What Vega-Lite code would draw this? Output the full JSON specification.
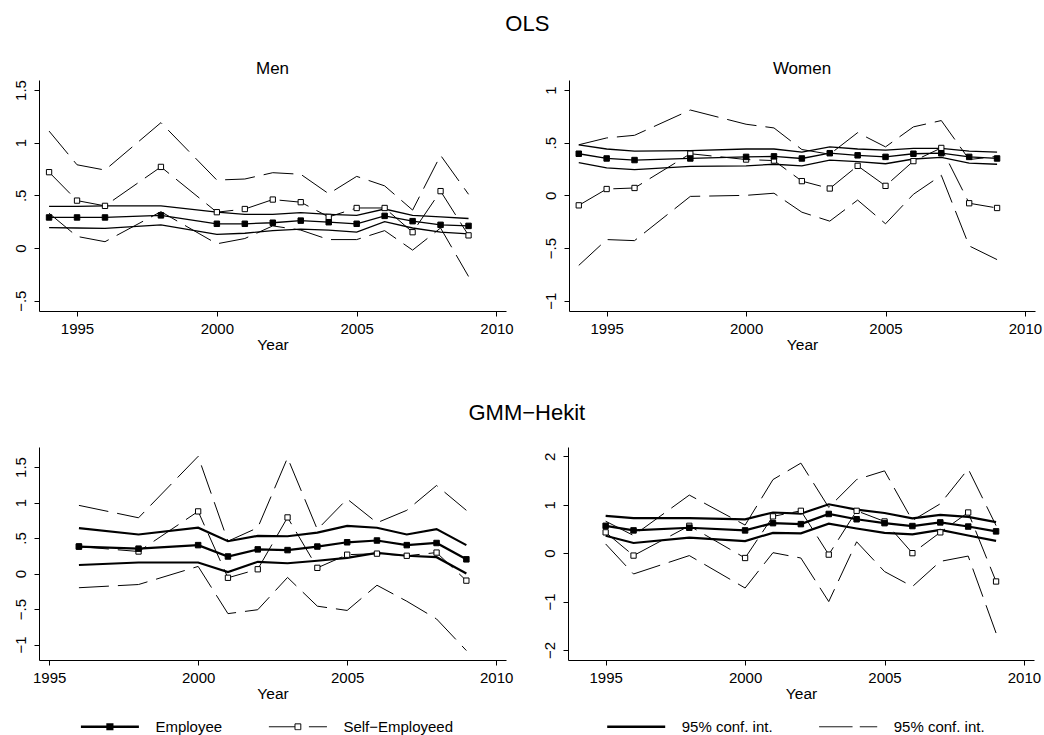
{
  "$schema": "https://vega.github.io/schema/vega-lite/v6.json",
  "background": "white",
  "padding": {"left": 12, "top": 12, "right": 5, "bottom": 0},
  "config": {
    "font": "Liberation Sans",
    "view": {"stroke": null},
    "axis": {"grid": false, "domainColor": "#000", "tickColor": "#000", "labelColor": "#000", "titleColor": "#000", "labelFontSize": 15, "titleFontSize": 15.5, "titleFontWeight": "normal", "tickSize": 5, "domainWidth": 1, "tickWidth": 1, "labelPadding": 5, "titlePadding": 1, "labelFont": "Liberation Sans", "titleFont": "Liberation Sans"},
    "title": {"fontWeight": "normal", "color": "#000", "font": "Liberation Sans"},
    "axisY": {"labelAngle": -90, "labelAlign": "center", "labelBaseline": "bottom", "labelPadding": 6, "title": null, "labelExpr": "(datum.value < 0 ? '−' : '') + replace(format(abs(datum.value), '~g'), '0.', '.')"},
    "axisX": {"labelFlush": false}
  },
  "datasets": {
    "d": [
      {"p":"om","x":1994,"emp":0.29,"emp_lo":0.193,"emp_hi":0.395,"se":0.72,"se_lo":0.33,"se_hi":1.11},
      {"p":"om","x":1995,"emp":0.29,"emp_lo":0.19,"emp_hi":0.395,"se":0.45,"se_lo":0.11,"se_hi":0.79},
      {"p":"om","x":1996,"emp":0.29,"emp_lo":0.187,"emp_hi":0.40,"se":0.40,"se_lo":0.06,"se_hi":0.74},
      {"p":"om","x":1998,"emp":0.31,"emp_lo":0.22,"emp_hi":0.40,"se":0.77,"se_lo":0.345,"se_hi":1.19},
      {"p":"om","x":2000,"emp":0.23,"emp_lo":0.13,"emp_hi":0.34,"se":0.34,"se_lo":0.04,"se_hi":0.645},
      {"p":"om","x":2001,"emp":0.23,"emp_lo":0.14,"emp_hi":0.32,"se":0.37,"se_lo":0.09,"se_hi":0.655},
      {"p":"om","x":2002,"emp":0.24,"emp_lo":0.165,"emp_hi":0.32,"se":0.46,"se_lo":0.21,"se_hi":0.715},
      {"p":"om","x":2003,"emp":0.26,"emp_lo":0.18,"emp_hi":0.335,"se":0.435,"se_lo":0.17,"se_hi":0.70},
      {"p":"om","x":2004,"emp":0.245,"emp_lo":0.17,"emp_hi":0.32,"se":0.295,"se_lo":0.08,"se_hi":0.515},
      {"p":"om","x":2005,"emp":0.23,"emp_lo":0.15,"emp_hi":0.31,"se":0.38,"se_lo":0.08,"se_hi":0.68},
      {"p":"om","x":2006,"emp":0.305,"emp_lo":0.25,"emp_hi":0.37,"se":0.38,"se_lo":0.165,"se_hi":0.59},
      {"p":"om","x":2007,"emp":0.255,"emp_lo":0.19,"emp_hi":0.31,"se":0.15,"se_lo":-0.02,"se_hi":0.36},
      {"p":"om","x":2008,"emp":0.22,"emp_lo":0.15,"emp_hi":0.295,"se":0.54,"se_lo":0.19,"se_hi":0.88},
      {"p":"om","x":2009,"emp":0.21,"emp_lo":0.135,"emp_hi":0.28,"se":0.12,"se_lo":-0.27,"se_hi":0.51},
      {"p":"ow","x":1994,"emp":0.395,"emp_lo":0.31,"emp_hi":0.48,"se":-0.095,"se_lo":-0.665,"se_hi":0.48},
      {"p":"ow","x":1995,"emp":0.35,"emp_lo":0.26,"emp_hi":0.44,"se":0.06,"se_lo":-0.42,"se_hi":0.545},
      {"p":"ow","x":1996,"emp":0.335,"emp_lo":0.245,"emp_hi":0.42,"se":0.07,"se_lo":-0.43,"se_hi":0.57},
      {"p":"ow","x":1998,"emp":0.35,"emp_lo":0.275,"emp_hi":0.425,"se":0.395,"se_lo":-0.01,"se_hi":0.81},
      {"p":"ow","x":2000,"emp":0.365,"emp_lo":0.28,"emp_hi":0.44,"se":0.34,"se_lo":0.0,"se_hi":0.675},
      {"p":"ow","x":2001,"emp":0.37,"emp_lo":0.295,"emp_hi":0.44,"se":0.33,"se_lo":0.02,"se_hi":0.64},
      {"p":"ow","x":2002,"emp":0.35,"emp_lo":0.28,"emp_hi":0.41,"se":0.135,"se_lo":-0.16,"se_hi":0.435},
      {"p":"ow","x":2003,"emp":0.40,"emp_lo":0.335,"emp_hi":0.46,"se":0.065,"se_lo":-0.245,"se_hi":0.39},
      {"p":"ow","x":2004,"emp":0.38,"emp_lo":0.32,"emp_hi":0.44,"se":0.28,"se_lo":-0.045,"se_hi":0.595},
      {"p":"ow","x":2005,"emp":0.365,"emp_lo":0.30,"emp_hi":0.43,"se":0.09,"se_lo":-0.27,"se_hi":0.46},
      {"p":"ow","x":2006,"emp":0.395,"emp_lo":0.345,"emp_hi":0.445,"se":0.325,"se_lo":0.01,"se_hi":0.65},
      {"p":"ow","x":2007,"emp":0.40,"emp_lo":0.36,"emp_hi":0.445,"se":0.45,"se_lo":0.19,"se_hi":0.71},
      {"p":"ow","x":2008,"emp":0.365,"emp_lo":0.305,"emp_hi":0.42,"se":-0.075,"se_lo":-0.48,"se_hi":0.34},
      {"p":"ow","x":2009,"emp":0.35,"emp_lo":0.295,"emp_hi":0.41,"se":-0.12,"se_lo":-0.61,"se_hi":0.37},
      {"p":"gm","x":1996,"emp":0.38,"emp_lo":0.12,"emp_hi":0.64,"se":0.38,"se_lo":-0.20,"se_hi":0.96},
      {"p":"gm","x":1998,"emp":0.35,"emp_lo":0.155,"emp_hi":0.55,"se":0.31,"se_lo":-0.155,"se_hi":0.785},
      {"p":"gm","x":2000,"emp":0.40,"emp_lo":0.155,"emp_hi":0.645,"se":0.875,"se_lo":0.10,"se_hi":1.65},
      {"p":"gm","x":2001,"emp":0.24,"emp_lo":0.02,"emp_hi":0.455,"se":-0.06,"se_lo":-0.565,"se_hi":0.455},
      {"p":"gm","x":2002,"emp":0.34,"emp_lo":0.165,"emp_hi":0.53,"se":0.06,"se_lo":-0.51,"se_hi":0.645},
      {"p":"gm","x":2003,"emp":0.33,"emp_lo":0.145,"emp_hi":0.525,"se":0.79,"se_lo":-0.055,"se_hi":1.63},
      {"p":"gm","x":2004,"emp":0.38,"emp_lo":0.18,"emp_hi":0.575,"se":0.08,"se_lo":-0.46,"se_hi":0.62},
      {"p":"gm","x":2005,"emp":0.44,"emp_lo":0.22,"emp_hi":0.67,"se":0.265,"se_lo":-0.52,"se_hi":1.05},
      {"p":"gm","x":2006,"emp":0.465,"emp_lo":0.29,"emp_hi":0.645,"se":0.28,"se_lo":-0.165,"se_hi":0.715},
      {"p":"gm","x":2007,"emp":0.40,"emp_lo":0.25,"emp_hi":0.55,"se":0.25,"se_lo":-0.39,"se_hi":0.89},
      {"p":"gm","x":2008,"emp":0.43,"emp_lo":0.23,"emp_hi":0.625,"se":0.295,"se_lo":-0.64,"se_hi":1.24},
      {"p":"gm","x":2009,"emp":0.20,"emp_lo":0.0,"emp_hi":0.40,"se":-0.10,"se_lo":-1.085,"se_hi":0.89},
      {"p":"gw","x":1995,"emp":0.565,"emp_lo":0.36,"emp_hi":0.77,"se":0.43,"se_lo":0.19,"se_hi":0.66},
      {"p":"gw","x":1996,"emp":0.47,"emp_lo":0.21,"emp_hi":0.725,"se":-0.05,"se_lo":-0.43,"se_hi":0.365},
      {"p":"gw","x":1998,"emp":0.525,"emp_lo":0.32,"emp_hi":0.725,"se":0.565,"se_lo":-0.05,"se_hi":1.20},
      {"p":"gw","x":2000,"emp":0.47,"emp_lo":0.25,"emp_hi":0.70,"se":-0.10,"se_lo":-0.72,"se_hi":0.58},
      {"p":"gw","x":2001,"emp":0.62,"emp_lo":0.42,"emp_hi":0.84,"se":0.76,"se_lo":0.01,"se_hi":1.52},
      {"p":"gw","x":2002,"emp":0.60,"emp_lo":0.41,"emp_hi":0.815,"se":0.875,"se_lo":-0.10,"se_hi":1.86},
      {"p":"gw","x":2003,"emp":0.81,"emp_lo":0.61,"emp_hi":1.01,"se":-0.03,"se_lo":-1.0,"se_hi":0.945},
      {"p":"gw","x":2004,"emp":0.70,"emp_lo":0.51,"emp_hi":0.90,"se":0.875,"se_lo":0.235,"se_hi":1.52},
      {"p":"gw","x":2005,"emp":0.62,"emp_lo":0.42,"emp_hi":0.83,"se":0.655,"se_lo":-0.38,"se_hi":1.70},
      {"p":"gw","x":2006,"emp":0.56,"emp_lo":0.39,"emp_hi":0.72,"se":0.0,"se_lo":-0.69,"se_hi":0.675},
      {"p":"gw","x":2007,"emp":0.635,"emp_lo":0.48,"emp_hi":0.79,"se":0.43,"se_lo":-0.17,"se_hi":1.02},
      {"p":"gw","x":2008,"emp":0.55,"emp_lo":0.365,"emp_hi":0.75,"se":0.84,"se_lo":-0.06,"se_hi":1.74},
      {"p":"gw","x":2009,"emp":0.45,"emp_lo":0.255,"emp_hi":0.64,"se":-0.585,"se_lo":-1.65,"se_hi":0.57}
    ]
  },
  "spacing": 49,
  "vconcat": [
    {
      "title": {"text": "OLS", "fontSize": 22, "anchor": "middle", "offset": 24},
      "spacing": 28,
      "hconcat": [
        {
          "width": 467, "height": 231,
          "title": {"text": "Men", "fontSize": 17, "frame": "group", "offset": 2},
          "data": {"name": "d"},
          "transform": [{"filter": "datum.p == 'om'"}],
          "encoding": {
            "x": {"field": "x", "type": "quantitative", "scale": {"domain": [1993.64, 2010.34], "nice": false, "zero": false}, "axis": {"title": "Year", "values": [1995, 2000, 2005, 2010], "format": "d"}},
            "y": {"field": "v", "type": "quantitative", "scale": {"domain": [-0.598, 1.595], "nice": false, "zero": false}, "axis": {"values": [-0.5, 0, 0.5, 1, 1.5]}}
          },
          "layer": [
            {"transform": [{"fold": ["emp"], "as": ["s", "v"]}], "mark": {"type": "line", "strokeWidth": 1.3},
             "encoding": {"color": {"field": "s", "type": "nominal", "scale": {"domain": ["emp", "se"], "range": ["black", "black"]},
               "legend": {"orient": "none", "legendX": 41.4, "legendY": 617, "direction": "horizontal", "title": null, "labelExpr": "datum.value == 'emp' ? 'Employee' : 'Self−Employeed'", "labelFontSize": 15, "labelFont": "Liberation Sans", "labelColor": "black", "labelOffset": 16, "columnPadding": 44, "symbolSize": 3364,
                 "encode": {"symbols": {"update": {
                   "shape": {"signal": "datum.value == 'emp' ? 'M-1,0H1M-0.08,-0.08H0.08V0.08H-0.08Z' : 'M-1,0H-0.1M-0.1,-0.1H0.1V0.1H-0.1ZM0.38,0H1'"},
                   "fill": {"signal": "datum.value == 'emp' ? 'black' : 'white'"},
                   "strokeWidth": {"signal": "(datum.value == 'emp' ? 2.5 : 1)"},
                   "strokeDash": {"value": [1, 0]},
                   "opacity": {"value": 1}, "strokeOpacity": {"value": 1}}}}}}}},
            {"transform": [{"fold": ["emp_lo", "emp_hi"], "as": ["s", "v"]}], "mark": {"type": "line", "strokeWidth": 1.3},
             "encoding": {"stroke": {"field": "s", "type": "nominal", "scale": {"domain": ["emp_hi", "se_hi", "emp_lo", "se_lo"], "range": ["black", "black", "black", "black"]},
               "legend": {"orient": "none", "legendX": 567.7, "legendY": 617, "direction": "horizontal", "title": null, "values": ["emp_hi", "se_hi"], "labelExpr": "'95% conf. int.'", "labelFontSize": 15, "labelFont": "Liberation Sans", "labelColor": "black", "labelOffset": 16, "columnPadding": 44, "symbolSize": 3364,
                 "encode": {"symbols": {"update": {
                   "shape": {"signal": "datum.value == 'emp_hi' ? 'M-1,0H1' : 'M-1,0H0.15M0.4,0H1'"},
                   "fill": {"value": "transparent"},
                   "stroke": {"value": "black"},
                   "strokeWidth": {"signal": "(datum.value == 'emp_hi' ? 2.5 : 1)"},
                   "strokeDash": {"value": [1, 0]},
                   "opacity": {"value": 1}, "strokeOpacity": {"value": 1}}}}}}}},
            {"transform": [{"fold": ["se_lo", "se_hi"], "as": ["s", "v"]}], "mark": {"type": "line", "strokeWidth": 1, "strokeDash": [30, 9]},
             "encoding": {"stroke": {"field": "s", "type": "nominal", "scale": {"domain": ["emp_hi", "se_hi", "emp_lo", "se_lo"], "range": ["black", "black", "black", "black"]}}}},
            {"transform": [{"fold": ["se"], "as": ["s", "v"]}], "mark": {"type": "line", "strokeWidth": 1, "strokeDash": [30, 9]},
             "encoding": {"color": {"field": "s", "type": "nominal", "scale": {"domain": ["emp", "se"], "range": ["black", "black"]}}}},
            {"transform": [{"fold": ["se"], "as": ["s", "v"]}], "mark": {"type": "square", "size": 28, "fill": "white", "stroke": "black", "strokeWidth": 1, "opacity": 1, "filled": true}},
            {"transform": [{"fold": ["emp"], "as": ["s", "v"]}], "mark": {"type": "square", "size": 30, "fill": "black", "stroke": "black", "strokeWidth": 1, "opacity": 1, "filled": true}}
          ]
        },
        {
          "width": 466, "height": 231,
          "title": {"text": "Women", "fontSize": 17, "frame": "group", "offset": 2},
          "data": {"name": "d"},
          "transform": [{"filter": "datum.p == 'ow'"}],
          "encoding": {
            "x": {"field": "x", "type": "quantitative", "scale": {"domain": [1993.65, 2010.36], "nice": false, "zero": false}, "axis": {"title": "Year", "values": [1995, 2000, 2005, 2010], "format": "d"}},
            "y": {"field": "v", "type": "quantitative", "scale": {"domain": [-1.098, 1.095], "nice": false, "zero": false}, "axis": {"values": [-1, -0.5, 0, 0.5, 1]}}
          },
          "layer": [
            {"transform": [{"fold": ["emp"], "as": ["s", "v"]}], "mark": {"type": "line", "strokeWidth": 1.3},
             "encoding": {"color": {"field": "s", "type": "nominal", "scale": {"domain": ["emp", "se"], "range": ["black", "black"]}}}},
            {"transform": [{"fold": ["emp_lo", "emp_hi"], "as": ["s", "v"]}], "mark": {"type": "line", "strokeWidth": 1.3},
             "encoding": {"stroke": {"field": "s", "type": "nominal", "scale": {"domain": ["emp_hi", "se_hi", "emp_lo", "se_lo"], "range": ["black", "black", "black", "black"]}}}},
            {"transform": [{"fold": ["se_lo", "se_hi"], "as": ["s", "v"]}], "mark": {"type": "line", "strokeWidth": 1, "strokeDash": [30, 9]},
             "encoding": {"stroke": {"field": "s", "type": "nominal", "scale": {"domain": ["emp_hi", "se_hi", "emp_lo", "se_lo"], "range": ["black", "black", "black", "black"]}}}},
            {"transform": [{"fold": ["se"], "as": ["s", "v"]}], "mark": {"type": "line", "strokeWidth": 1, "strokeDash": [30, 9]},
             "encoding": {"color": {"field": "s", "type": "nominal", "scale": {"domain": ["emp", "se"], "range": ["black", "black"]}}}},
            {"transform": [{"fold": ["se"], "as": ["s", "v"]}], "mark": {"type": "square", "size": 28, "fill": "white", "stroke": "black", "strokeWidth": 1, "opacity": 1, "filled": true}},
            {"transform": [{"fold": ["emp"], "as": ["s", "v"]}], "mark": {"type": "square", "size": 30, "fill": "black", "stroke": "black", "strokeWidth": 1, "opacity": 1, "filled": true}}
          ]
        }
      ]
    },
    {
      "title": {"text": "GMM−Hekit", "fontSize": 22, "anchor": "middle", "offset": 22},
      "spacing": 28,
      "hconcat": [
        {
          "width": 467, "height": 213,
          "data": {"name": "d"},
          "transform": [{"filter": "datum.p == 'gm'"}],
          "encoding": {
            "x": {"field": "x", "type": "quantitative", "scale": {"domain": [1994.66, 2010.33], "nice": false, "zero": false}, "axis": {"title": "Year", "values": [1995, 2000, 2005, 2010], "format": "d"}},
            "y": {"field": "v", "type": "quantitative", "scale": {"domain": [-1.218, 1.782], "nice": false, "zero": false}, "axis": {"values": [-1, -0.5, 0, 0.5, 1, 1.5]}}
          },
          "layer": [
            {"transform": [{"fold": ["emp"], "as": ["s", "v"]}], "mark": {"type": "line", "strokeWidth": 2.2},
             "encoding": {"color": {"field": "s", "type": "nominal", "scale": {"domain": ["emp", "se"], "range": ["black", "black"]}}}},
            {"transform": [{"fold": ["emp_lo", "emp_hi"], "as": ["s", "v"]}], "mark": {"type": "line", "strokeWidth": 2.2},
             "encoding": {"stroke": {"field": "s", "type": "nominal", "scale": {"domain": ["emp_hi", "se_hi", "emp_lo", "se_lo"], "range": ["black", "black", "black", "black"]}}}},
            {"transform": [{"fold": ["se_lo", "se_hi"], "as": ["s", "v"]}], "mark": {"type": "line", "strokeWidth": 1, "strokeDash": [30, 9]},
             "encoding": {"stroke": {"field": "s", "type": "nominal", "scale": {"domain": ["emp_hi", "se_hi", "emp_lo", "se_lo"], "range": ["black", "black", "black", "black"]}}}},
            {"transform": [{"fold": ["se"], "as": ["s", "v"]}], "mark": {"type": "line", "strokeWidth": 1, "strokeDash": [30, 9]},
             "encoding": {"color": {"field": "s", "type": "nominal", "scale": {"domain": ["emp", "se"], "range": ["black", "black"]}}}},
            {"transform": [{"fold": ["se"], "as": ["s", "v"]}], "mark": {"type": "square", "size": 28, "fill": "white", "stroke": "black", "strokeWidth": 1, "opacity": 1, "filled": true}},
            {"transform": [{"fold": ["emp"], "as": ["s", "v"]}], "mark": {"type": "square", "size": 30, "fill": "black", "stroke": "black", "strokeWidth": 1, "opacity": 1, "filled": true}}
          ]
        },
        {
          "width": 466, "height": 213,
          "data": {"name": "d"},
          "transform": [{"filter": "datum.p == 'gw'"}],
          "encoding": {
            "x": {"field": "x", "type": "quantitative", "scale": {"domain": [1993.65, 2010.36], "nice": false, "zero": false}, "axis": {"title": "Year", "values": [1995, 2000, 2005, 2010], "format": "d"}},
            "y": {"field": "v", "type": "quantitative", "scale": {"domain": [-2.207, 2.193], "nice": false, "zero": false}, "axis": {"values": [-2, -1, 0, 1, 2]}}
          },
          "layer": [
            {"transform": [{"fold": ["emp"], "as": ["s", "v"]}], "mark": {"type": "line", "strokeWidth": 2.2},
             "encoding": {"color": {"field": "s", "type": "nominal", "scale": {"domain": ["emp", "se"], "range": ["black", "black"]}}}},
            {"transform": [{"fold": ["emp_lo", "emp_hi"], "as": ["s", "v"]}], "mark": {"type": "line", "strokeWidth": 2.2},
             "encoding": {"stroke": {"field": "s", "type": "nominal", "scale": {"domain": ["emp_hi", "se_hi", "emp_lo", "se_lo"], "range": ["black", "black", "black", "black"]}}}},
            {"transform": [{"fold": ["se_lo", "se_hi"], "as": ["s", "v"]}], "mark": {"type": "line", "strokeWidth": 1, "strokeDash": [30, 9]},
             "encoding": {"stroke": {"field": "s", "type": "nominal", "scale": {"domain": ["emp_hi", "se_hi", "emp_lo", "se_lo"], "range": ["black", "black", "black", "black"]}}}},
            {"transform": [{"fold": ["se"], "as": ["s", "v"]}], "mark": {"type": "line", "strokeWidth": 1, "strokeDash": [30, 9]},
             "encoding": {"color": {"field": "s", "type": "nominal", "scale": {"domain": ["emp", "se"], "range": ["black", "black"]}}}},
            {"transform": [{"fold": ["se"], "as": ["s", "v"]}], "mark": {"type": "square", "size": 28, "fill": "white", "stroke": "black", "strokeWidth": 1, "opacity": 1, "filled": true}},
            {"transform": [{"fold": ["emp"], "as": ["s", "v"]}], "mark": {"type": "square", "size": 30, "fill": "black", "stroke": "black", "strokeWidth": 1, "opacity": 1, "filled": true}}
          ]
        }
      ]
    }
  ]
}
